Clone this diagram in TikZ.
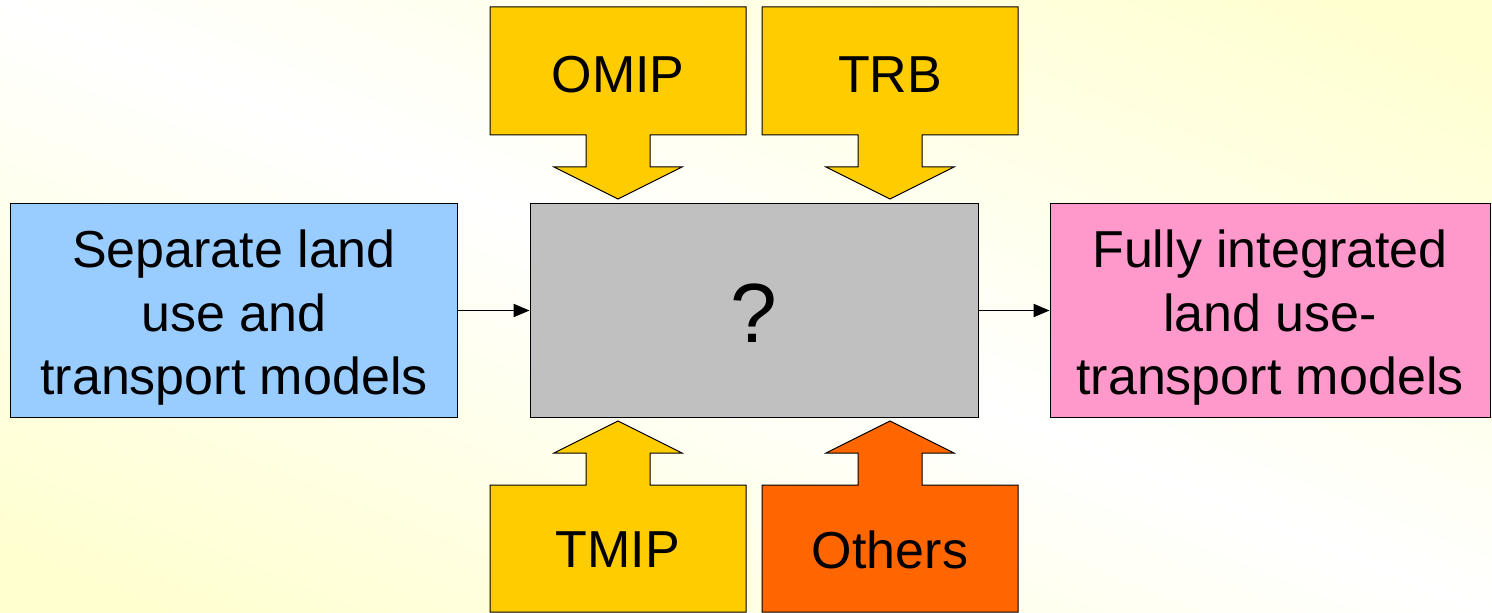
\documentclass[tikz,border=0pt]{standalone}
\usepackage{fontspec}
\setmainfont{Liberation Sans}
\usetikzlibrary{arrows.meta}

\definecolor{bgyel}{RGB}{255,255,208}
\definecolor{ylw}{RGB}{255,204,0}
\definecolor{org}{RGB}{255,102,0}
\definecolor{gry}{RGB}{192,192,192}
\definecolor{lblue}{RGB}{153,204,255}
\definecolor{pnk}{RGB}{255,153,204}

\pgfdeclarehorizontalshading{bgdiag}{100bp}{color(0bp)=(bgyel); color(35bp)=(bgyel); color(50bp)=(white); color(65bp)=(bgyel); color(100bp)=(bgyel)}

\tikzset{
  lbl/.style={inner sep=0pt, font=\fontsize{39}{47.5}\selectfont},
  box/.style={draw=black, line width=0.75pt, minimum height=159.75pt, inner sep=0pt},
  feed/.style={draw=black, line width=0.75pt},
  link/.style={-{Triangle[length=12pt,width=10pt]}, line width=0.75pt}
}

\begin{document}
\begin{tikzpicture}[x=0.75pt,y=0.75pt,yscale=-1,xscale=1]
\useasboundingbox (0,0) rectangle (1492,613);
% Background
\begin{scope}
\clip (0,0) rectangle (1492,613);
\shade[shading=bgdiag, shading angle=67.7] (-104,-543.5) rectangle (1596,1156.5);
\end{scope}

% Feed arrows from above
\foreach \cx/\fc/\nm/\txt in {618/ylw/omip/OMIP, 890/ylw/trb/TRB} {
  \draw[feed, fill=\fc] (\cx-128,7) -- (\cx+128,7) -- (\cx+128,135) -- (\cx+32,135) -- (\cx+32,167) -- (\cx+64,167) -- (\cx,199) -- (\cx-64,167) -- (\cx-32,167) -- (\cx-32,135) -- (\cx-128,135) -- cycle;
  \node[lbl] (\nm) at (\cx,75) {\txt};
}
% Feed arrows from below
\foreach \cx/\fc/\nm/\txt in {618/ylw/tmip/TMIP, 890/org/others/Others} {
  \draw[feed, fill=\fc] (\cx-128,612) -- (\cx+128,612) -- (\cx+128,485) -- (\cx+32,485) -- (\cx+32,453) -- (\cx+64,453) -- (\cx,421) -- (\cx-64,453) -- (\cx-32,453) -- (\cx-32,485) -- (\cx-128,485) -- cycle;
  \node[lbl] (\nm) at (\cx,550) {\txt};
}

% Boxes
\node[box, fill=lblue, minimum width=335.25pt] (sep) at (234,310.5) {};
\node[lbl, align=center] (septxt) at ([yshift=5.5pt]sep.center) {Separate land\\use and\\transport models};
\node[box, fill=gry, minimum width=336pt] (mid) at (754,310.5) {};
\node[lbl, font=\fontsize{63}{70}\selectfont] (qmark) at (754,313.5) {?};
\node[box, fill=pnk, minimum width=330pt] (full) at (1270,310.5) {};
\node[lbl, align=center] (fulltxt) at ([yshift=5.5pt]full.center) {Fully integrated\\land use-\\transport models};

% Links
\draw[link] (sep) -- (mid);
\draw[link] (mid) -- (full);
\end{tikzpicture}
\end{document}
